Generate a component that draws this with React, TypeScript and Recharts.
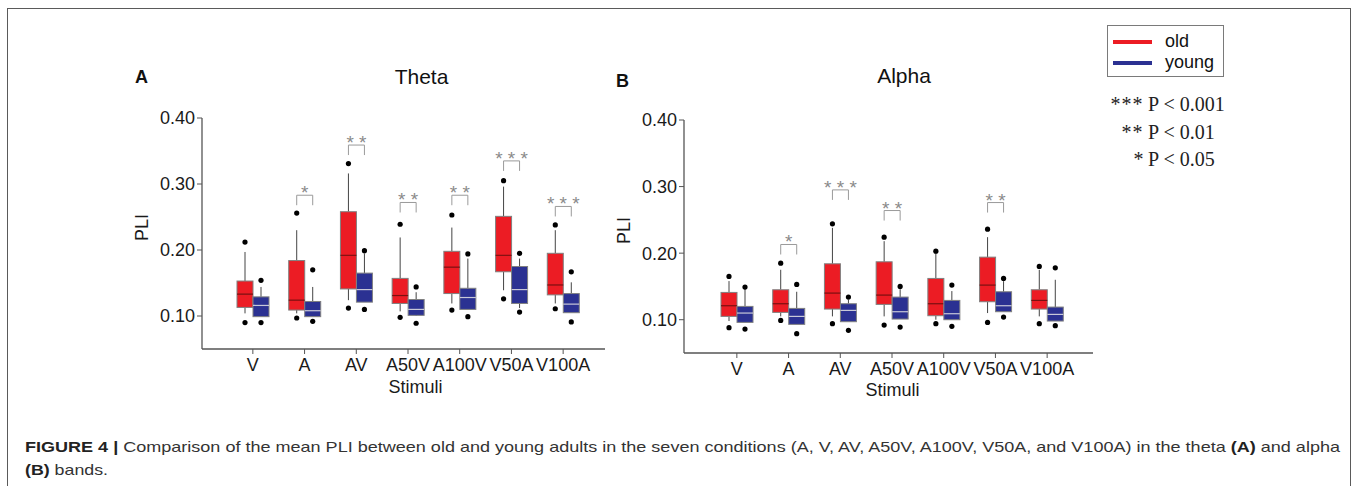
import React from 'react';
import { ComposedChart, Bar, XAxis, YAxis, Legend, Label } from 'recharts';

const categories = ['V', 'A', 'AV', 'A50V', 'A100V', 'V50A', 'V100A'];
const yTicks = [0.1, 0.2, 0.3, 0.4];
const seriesNames = ['old', 'young'];

// each entry: [lowDot, lowWhisker, q1, median, q3, highWhisker, highDot]
const thetaOld = [
  [0.090, 0.104, 0.113, 0.133, 0.153, 0.197, 0.212],
  [0.097, 0.104, 0.109, 0.124, 0.184, 0.230, 0.256],
  [0.112, 0.124, 0.141, 0.192, 0.258, 0.316, 0.331],
  [0.098, 0.107, 0.119, 0.131, 0.157, 0.219, 0.239],
  [0.109, 0.119, 0.134, 0.174, 0.198, 0.234, 0.253],
  [0.126, 0.139, 0.167, 0.192, 0.251, 0.296, 0.305],
  [0.111, 0.119, 0.132, 0.147, 0.195, 0.230, 0.238],
];
const thetaYoung = [
  [0.090, 0.099, 0.099, 0.116, 0.129, 0.144, 0.154],
  [0.092, 0.099, 0.099, 0.108, 0.122, 0.144, 0.170],
  [0.110, 0.121, 0.121, 0.140, 0.165, 0.195, 0.199],
  [0.089, 0.100, 0.101, 0.110, 0.125, 0.136, 0.144],
  [0.099, 0.110, 0.110, 0.128, 0.142, 0.187, 0.194],
  [0.106, 0.112, 0.119, 0.140, 0.175, 0.187, 0.195],
  [0.091, 0.105, 0.105, 0.118, 0.134, 0.151, 0.167],
];
const thetaStars = ['', '*', '**', '**', '**', '***', '***'];
const thetaBrackets = [null, 0.283, 0.359, 0.272, 0.283, 0.335, 0.266];

const alphaOld = [
  [0.088, 0.098, 0.105, 0.121, 0.141, 0.158, 0.165],
  [0.099, 0.105, 0.111, 0.124, 0.145, 0.175, 0.185],
  [0.094, 0.105, 0.116, 0.140, 0.184, 0.238, 0.244],
  [0.092, 0.105, 0.123, 0.137, 0.187, 0.218, 0.224],
  [0.094, 0.100, 0.106, 0.124, 0.162, 0.200, 0.203],
  [0.096, 0.110, 0.127, 0.152, 0.194, 0.224, 0.236],
  [0.094, 0.105, 0.116, 0.129, 0.145, 0.175, 0.180],
];
const alphaYoung = [
  [0.086, 0.096, 0.096, 0.110, 0.120, 0.146, 0.149],
  [0.079, 0.093, 0.093, 0.105, 0.117, 0.142, 0.153],
  [0.084, 0.097, 0.097, 0.114, 0.124, 0.130, 0.134],
  [0.089, 0.101, 0.101, 0.112, 0.134, 0.146, 0.150],
  [0.090, 0.100, 0.100, 0.109, 0.129, 0.143, 0.152],
  [0.104, 0.112, 0.112, 0.121, 0.142, 0.158, 0.162],
  [0.091, 0.098, 0.098, 0.108, 0.119, 0.160, 0.178],
];
const alphaStars = ['', '*', '***', '**', '', '**', ''];
const alphaBrackets = [null, 0.213, 0.295, 0.264, null, 0.276, null];

const RED = '#ec1c24';
const BLUE = '#2b3192';
const FONT = "'Liberation Sans', Arial, Helvetica, sans-serif";
const SERIF = "'Liberation Serif', 'Times New Roman', serif";
const LEGEND_H = 52;

function buildRows(oldS: number[][], youngS: number[][]) {
  return categories.map((c, i) => ({
    cat: c,
    idx: i,
    old: [oldS[i][2], oldS[i][4]],
    young: [youngS[i][2], youngS[i][4]],
  }));
}

function makeBoxShape(
  stats: number[][],
  fill: string,
  medianColor: string,
  stars?: string[],
  brackets?: (number | null)[]
) {
  return (props: any) => {
    const { x, y, width, height, payload } = props;
    const i = payload.idx;
    const s = stats[i];
    const top = Math.min(y, y + height);
    const h = Math.abs(height);
    const q1 = s[2];
    const q3 = s[4];
    const ppu = h / (q3 - q1);
    const yOf = (v: number) => top + h - (v - q1) * ppu;
    const cx = x + width / 2;
    const els: any[] = [];
    els.push(<line key="wh" x1={cx} x2={cx} y1={yOf(s[5])} y2={top} stroke="#444" strokeWidth={1} />);
    els.push(<line key="wl" x1={cx} x2={cx} y1={top + h} y2={yOf(s[1])} stroke="#444" strokeWidth={1} />);
    els.push(<rect key="box" x={x} y={top} width={width} height={h} fill={fill} stroke="#808080" strokeWidth={1} />);
    els.push(<line key="med" x1={x} x2={x + width} y1={yOf(s[3])} y2={yOf(s[3])} stroke={medianColor} strokeWidth={1.2} />);
    els.push(<circle key="d1" cx={cx} cy={yOf(s[0])} r={2.6} fill="#000" />);
    els.push(<circle key="d2" cx={cx} cy={yOf(s[6])} r={2.6} fill="#000" />);
    if (brackets && stars && brackets[i] != null) {
      const by = yOf(brackets[i] as number);
      const x1 = cx;
      const x2 = cx + width;
      els.push(
        <path key="br" d={`M${x1},${by + 10} L${x1},${by} L${x2},${by} L${x2},${by + 10}`} fill="none" stroke="#9a9a9a" strokeWidth={1} />
      );
      els.push(
        <text key="st" x={(x1 + x2) / 2} y={by + 4} textAnchor="middle" fontSize={19} fill="#8a8a8a" fontFamily={FONT}>
          {stars[i].split('').join(' ')}
        </text>
      );
    }
    return <g>{els}</g>;
  };
}

const renderLegend = (props: any) => {
  const payload = props.payload || [];
  return (
    <div
      style={{
        border: '1px solid #7a7a7a',
        width: 117,
        height: LEGEND_H,
        boxSizing: 'border-box',
        background: '#fff',
        paddingTop: 5,
        fontFamily: FONT,
        fontSize: 18,
        color: '#111',
      }}
    >
      {payload.map((e: any) => (
        <div key={e.value} style={{ display: 'flex', alignItems: 'center', height: 21 }}>
          <span style={{ display: 'inline-block', width: 39, height: 4, background: e.color, marginLeft: 5, marginRight: 13 }} />
          <span>{e.value}</span>
        </div>
      ))}
    </div>
  );
};

const tickStyle = { fontSize: 18, fill: '#1a1a1a', fontFamily: FONT };

function Panel(props: {
  oldS: number[][];
  youngS: number[][];
  stars: string[];
  brackets: (number | null)[];
  width: number;
  height: number;
  margin: any;
  padding: any;
  withLegend?: boolean;
  stimDx: number;
  pliDy: number;
  stimOffset: number;
}) {
  const rows = buildRows(props.oldS, props.youngS);
  return (
    <ComposedChart width={props.width} height={props.height} data={rows} margin={props.margin} barGap={0}>
      <XAxis
        dataKey="cat"
        type="category"
        height={50}
        interval={0}
        padding={props.padding}
        tick={tickStyle}
        tickSize={5}
        tickMargin={4}
        axisLine={{ stroke: '#555', strokeWidth: 1.3 }}
        tickLine={{ stroke: '#555' }}
      >
        <Label value="Stimuli" position="insideBottom" offset={props.stimOffset} dx={props.stimDx} style={{ fontSize: 18, fill: '#1a1a1a', fontFamily: FONT }} />
      </XAxis>
      <YAxis
        type="number"
        domain={[0.05, 0.4]}
        ticks={yTicks}
        width={60}
        allowDataOverflow
        tickFormatter={(v: number) => v.toFixed(2)}
        tick={tickStyle}
        tickSize={5}
        tickMargin={2}
        axisLine={{ stroke: '#555', strokeWidth: 1.3 }}
        tickLine={{ stroke: '#555' }}
      >
        <Label value="PLI" angle={-90} position="insideLeft" offset={0} dy={props.pliDy} style={{ fontSize: 18, fill: '#1a1a1a', fontFamily: FONT, textAnchor: 'middle' }} />
      </YAxis>
      {props.withLegend && (
        <Legend
          content={renderLegend}
          wrapperStyle={{ position: 'absolute', left: 507, top: 25, width: 117, height: LEGEND_H }}
        />
      )}
      <Bar
        dataKey="old"
        name={seriesNames[0]}
        fill={RED}
        barSize={16}
        isAnimationActive={false}
        shape={makeBoxShape(props.oldS, RED, '#7a1010', props.stars, props.brackets)}
      />
      <Bar
        dataKey="young"
        name={seriesNames[1]}
        fill={BLUE}
        barSize={16}
        isAnimationActive={false}
        shape={makeBoxShape(props.youngS, BLUE, '#c8c8d8')}
      />
    </ComposedChart>
  );
}

export default function App() {
  return (
    <div style={{ position: 'absolute', left: 0, top: 0, width: 1357, height: 486, background: '#fff', overflow: 'hidden' }}>
      <div
        style={{
          position: 'absolute',
          left: 7,
          top: 8,
          width: 1344,
          height: 500,
          borderTop: '1.5px solid #5a5a5a',
          borderLeft: '1.5px solid #5a5a5a',
          borderRight: '1.5px solid #5a5a5a',
          boxSizing: 'border-box',
        }}
      />
      <div style={{ position: 'absolute', left: 0, top: 0 }}>
        <Panel
          oldS={thetaOld}
          youngS={thetaYoung}
          stars={thetaStars}
          brackets={thetaBrackets}
          width={620}
          height={400}
          margin={{ top: 118, right: 15, bottom: 1, left: 142 }}
          padding={{ left: 25, right: 16 }}
          stimDx={12}
          pliDy={-6}
          stimOffset={6}
        />
      </div>
      <div style={{ position: 'absolute', left: 600, top: 0 }}>
        <Panel
          oldS={alphaOld}
          youngS={alphaYoung}
          stars={alphaStars}
          brackets={alphaBrackets}
          width={650}
          height={404 + LEGEND_H}
          margin={{ top: 120, right: 157, bottom: 1, left: 24 }}
          padding={{ left: 27, right: 20 }}
          withLegend
          stimDx={4}
          pliDy={-6}
          stimOffset={7}
        />
      </div>
      <svg width={1357} height={486} style={{ position: 'absolute', left: 0, top: 0, pointerEvents: 'none' }}>
        <text x={135} y={83} fontSize={18} fontWeight="bold" fontFamily={FONT} fill="#111">A</text>
        <text x={421.5} y={84} fontSize={21} textAnchor="middle" fontFamily={FONT} fill="#111">Theta</text>
        <text x={616} y={87} fontSize={18} fontWeight="bold" fontFamily={FONT} fill="#111">B</text>
        <text x={904} y={83} fontSize={21} textAnchor="middle" fontFamily={FONT} fill="#111">Alpha</text>

        <text x={1143.5} y={111} fontSize={20} textAnchor="end" fontFamily={SERIF} fill="#222" letterSpacing={1}>***</text>
        <text x={1148} y={111} fontSize={20} fontFamily={SERIF} fill="#222">P &lt; 0.001</text>
        <text x={1143.5} y={139} fontSize={20} textAnchor="end" fontFamily={SERIF} fill="#222" letterSpacing={1}>**</text>
        <text x={1148} y={139} fontSize={20} fontFamily={SERIF} fill="#222">P &lt; 0.01</text>
        <text x={1143.5} y={165.5} fontSize={20} textAnchor="end" fontFamily={SERIF} fill="#222">*</text>
        <text x={1148} y={165.5} fontSize={20} fontFamily={SERIF} fill="#222">P &lt; 0.05</text>

        <text x={25} y={452} fontSize={15} fontFamily={FONT} fill="#333" textLength={1315} lengthAdjust="spacingAndGlyphs">
          <tspan fontWeight="bold" fill="#222">FIGURE 4 |</tspan>
          {' Comparison of the mean PLI between old and young adults in the seven conditions (A, V, AV, A50V, A100V, V50A, and V100A) in the theta '}
          <tspan fontWeight="bold" fill="#222">(A)</tspan>
          {' and alpha'}
        </text>
        <text x={25} y={475} fontSize={15} fontFamily={FONT} fill="#333" textLength={83} lengthAdjust="spacingAndGlyphs">
          <tspan fontWeight="bold" fill="#222">(B)</tspan>
          {' bands.'}
        </text>
      </svg>
    </div>
  );
}
